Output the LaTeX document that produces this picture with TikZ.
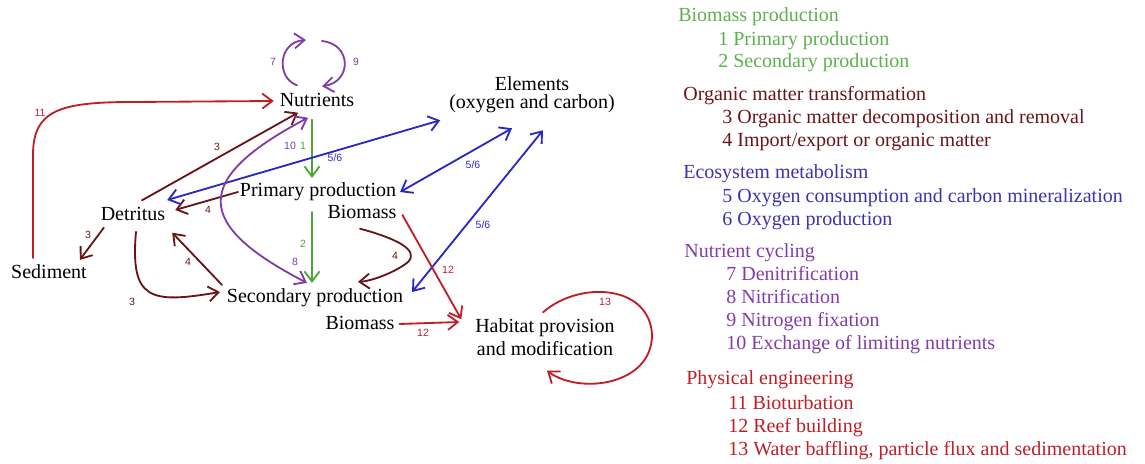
\documentclass[tikz,border=0pt]{standalone}
\usepackage{fontspec}
\setmainfont{Liberation Serif}
\setsansfont{Liberation Sans}
\usetikzlibrary{arrows.meta}
\definecolor{grnc}{RGB}{75,165,55}
\definecolor{grnt}{RGB}{95,175,80}
\definecolor{brnc}{RGB}{105,20,25}
\definecolor{bluc}{RGB}{40,40,195}
\definecolor{blut}{RGB}{60,50,175}
\definecolor{prpc}{RGB}{130,60,170}
\definecolor{redc}{RGB}{190,30,40}

\begin{document}
\begin{tikzpicture}
		[x=0.6pt,y=-0.6pt,
		>={Straight Barb[length=6pt,width=9pt]},
		place/.style={inner sep=1pt,font=\fontsize{12}{14}\selectfont},
		num/.style={inner sep=0pt,font=\sffamily\fontsize{6.3}{7}\selectfont},
		legend/.style={anchor=base west,inner sep=0pt,font=\fontsize{12}{14}\selectfont},
		flow/.style={->,line width=1.1pt,line cap=round,line join=round},
		both/.style={<->,line width=1.1pt,line cap=round,line join=round}]
		\useasboundingbox (0,0) rectangle (1145,464);
		% compartments
		\node at (317,100) (nutr) [place] {Nutrients};
		\node at (532,95) (elem) [place,align=center] {Elements\\[-3pt](oxygen and carbon)};
		\node at (318,192) (prim) [place] {Primary production};
		\node at (362,212) (pbio) [place] {Biomass};
		\node at (133,214) (detr) [place] {Detritus};
		\node at (49,272) (sedi) [place] {Sediment};
		\node at (315,298) (seco) [place] {Secondary production};
		\node at (360,323) (sbio) [place] {Biomass};
		\node at (545,337) (habi) [place,align=center] {Habitat provision\\and modification};
		% biomass production
		\draw[flow,grnc] ([shift={(-5,11)}]nutr.south) -- ([shift={(-6,-3)}]prim.north);
		\draw[flow,grnc] ([shift={(-6,9)}]prim.south) -- ([shift={(-3,-4)}]seco.north);
		% organic matter
		\draw[flow,brnc] ([shift={(9,-5)}]detr.north) -- ([shift={(-19,4)}]nutr.south);
		\draw[flow,brnc] (prim.west) -- ([shift={(8,-4)}]detr.east);
		\draw[flow,brnc] ([shift={(5,5)}]detr.south west) -- ([shift={(-9,-3)}]sedi.north east);
		\draw[flow,brnc] ([shift={(-3,-2)}]seco.north west) -- ([shift={(5,10)}]detr.south east);
		\draw[flow,brnc] ([shift={(3,9)}]detr.south) .. controls (130,300) and (150,304) .. ([shift={(-5,-6)}]seco.west);
		\draw[flow,brnc] ([shift={(-2,8)}]pbio.south) .. controls (395,238) and (420,250) .. (408,262)
			.. controls (396,272) and (372,281) .. ([shift={(43,-5)}]seco.north);
		% metabolism
		\draw[both,bluc] ([shift={(0,-14)}]detr.east) -- ([shift={(-7,5)}]elem.south west);
		\draw[both,bluc] ([shift={(2,0)}]prim.east) -- ([shift={(-20,13)}]elem.south);
		\draw[both,bluc] ([shift={(7,-6)}]seco.east) -- ([shift={(11,15)}]elem.south);
		% nutrient cycling
		\draw[both,prpc] ([shift={(-9,9)}]nutr.south) .. controls (190,180) and (195,225) .. ([shift={(-8,-4)}]seco.north);
		\draw[flow,prpc] ([shift={(-20,-6)}]nutr.north) .. controls (276,78) and (278,42) .. (306,40);
		\draw[flow,prpc] (322,41) .. controls (352,44) and (352,82) .. ([shift={(5,-5)}]nutr.north);
		% physical engineering
		\draw[flow,redc] ([shift={(-16,-5)}]sedi.north) -- (33,155) .. controls (33,110) and (60,102) .. (133,102)
			-- ([shift={(-4,1)}]nutr.west);
		\draw[flow,redc] ([shift={(4,3)}]pbio.east) -- ([shift={(-12,3)}]habi.north west);
		\draw[flow,redc] ([shift={(3,1)}]sbio.east) -- ([shift={(-14,-15)}]habi.west);
		\draw[flow,redc] ([shift={(-2,-4)}]habi.north) .. controls (580,280) and (650,285) .. (652,335)
			.. controls (652,385) and (580,395) .. ([shift={(2,13)}]habi.south);
		% process numbers
		\node at (273,62) (n7) [num,prpc] {7};
		\node at (356,62) (n9) [num,prpc] {9};
		\node at (40,113) (n11) [num,redc] {11};
		\node at (217,147) (n3a) [num,brnc] {3};
		\node at (290,146) (n10) [num,prpc] {10};
		\node at (303,146) (n1) [num,grnc] {1};
		\node at (335,158) (n56a) [num,bluc] {5/6};
		\node at (473,165) (n56b) [num,bluc] {5/6};
		\node at (208,210) (n4a) [num,brnc] {4};
		\node at (88,235) (n3b) [num,brnc] {3};
		\node at (483,225) (n56c) [num,bluc] {5/6};
		\node at (303,244) (n2) [num,grnc] {2};
		\node at (188,262) (n4b) [num,brnc] {4};
		\node at (295,262) (n8) [num,prpc] {8};
		\node at (395,256) (n4c) [num,brnc] {4};
		\node at (448,270) (n12a) [num,redc] {12};
		\node at (132,302) (n3c) [num,brnc] {3};
		\node at (423,333) (n12b) [num,redc] {12};
		\node at (605,302) (n13) [num,redc] {13};
		% legend
		\node at (678,22) (lg1) [legend,grnt] {Biomass production};
		\node at (718,46) (lg1a) [legend,grnt] {1 Primary production};
		\node at (718,68) (lg1b) [legend,grnt] {2 Secondary production};
		\node at (683,101) (lg2) [legend,brnc] {Organic matter transformation};
		\node at (722,124) (lg2a) [legend,brnc] {3 Organic matter decomposition and removal};
		\node at (722,147) (lg2b) [legend,brnc] {4 Import/export or organic matter};
		\node at (683,179) (lg3) [legend,blut] {Ecosystem metabolism};
		\node at (722,203) (lg3a) [legend,blut] {5 Oxygen consumption and carbon mineralization};
		\node at (722,226) (lg3b) [legend,blut] {6 Oxygen production};
		\node at (684,258) (lg4) [legend,prpc] {Nutrient cycling};
		\node at (726,281) (lg4a) [legend,prpc] {7 Denitrification};
		\node at (726,304) (lg4b) [legend,prpc] {8 Nitrification};
		\node at (726,327) (lg4c) [legend,prpc] {9 Nitrogen fixation};
		\node at (726,350) (lg4d) [legend,prpc] {10 Exchange of limiting nutrients};
		\node at (686,385) (lg5) [legend,redc] {Physical engineering};
		\node at (728,409) (lg5a) [legend,redc] {11 Bioturbation};
		\node at (728,432) (lg5b) [legend,redc] {12 Reef building};
		\node at (728,455) (lg5c) [legend,redc] {13 Water baffling, particle flux and sedimentation};
	\end{tikzpicture}
\end{document}
